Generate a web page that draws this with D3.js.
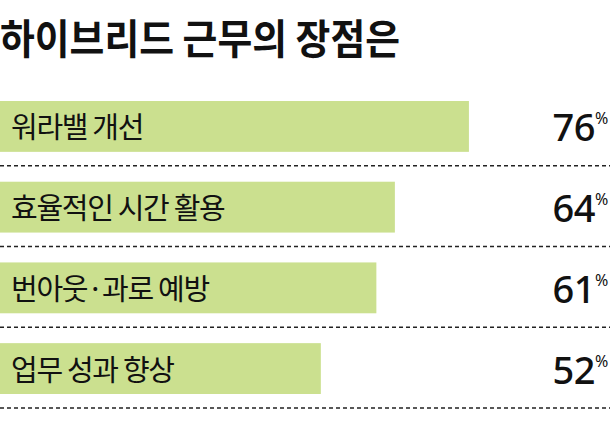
<!DOCTYPE html>
<html>
<head>
<meta charset="utf-8">
<script src="https://cdn.jsdelivr.net/npm/d3@7"></script>
<style>
  body { margin: 0; background: #fff; }
  svg { display: block; }
</style>
</head>
<body>
<div id="chart"></div>
<script>
const title = "하이브리드 근무의 장점은";
const categories = ["워라밸 개선", "효율적인 시간 활용", "번아웃·과로 예방", "업무 성과 향상"];
const values = [76, 64, 61, 52];

const width = 610;
const height = 434;
const font = "'Noto Sans CJK KR', 'Noto Sans', sans-serif";
const numFont = "'Noto Sans', 'DejaVu Sans', sans-serif";

const svg = d3.select("#chart")
  .append("svg")
  .attr("width", width)
  .attr("height", height);

svg.append("rect")
  .attr("width", width)
  .attr("height", height)
  .attr("fill", "#ffffff");

// title, slightly condensed like the original
svg.append("text")
  .attr("x", 0)
  .attr("y", 54)
  .attr("font-family", font)
  .attr("font-weight", 700)
  .attr("font-size", 41)
  .attr("textLength", 400)
  .attr("lengthAdjust", "spacingAndGlyphs")
  .attr("fill", "#111")
  .text(title);

// scales
const xScale = d3.scaleLinear()
  .domain([0, 100])
  .range([0, 617]);

const yScale = d3.scaleBand()
  .domain(categories)
  .range([101, 394])
  .paddingInner(0.37)
  .paddingOuter(0);

const rows = categories.map((c, i) => ({ cat: c, val: values[i] }));

// dashed separators under each bar
svg.selectAll(".sep")
  .data(rows)
  .enter()
  .append("line")
  .attr("class", "sep")
  .attr("x1", 0)
  .attr("x2", width)
  .attr("y1", d => yScale(d.cat) + yScale.bandwidth() + 14)
  .attr("y2", d => yScale(d.cat) + yScale.bandwidth() + 14)
  .attr("stroke", "#222")
  .attr("stroke-width", 1.5)
  .attr("stroke-dasharray", "4,3");

// bars
svg.selectAll(".bar")
  .data(rows)
  .enter()
  .append("rect")
  .attr("class", "bar")
  .attr("x", xScale(0))
  .attr("y", d => yScale(d.cat))
  .attr("width", d => xScale(d.val) - xScale(0))
  .attr("height", yScale.bandwidth())
  .attr("fill", "#cbe08f");

// category labels inside bars
svg.selectAll(".cat")
  .data(rows)
  .enter()
  .append("text")
  .attr("class", "cat")
  .attr("x", 11)
  .attr("y", d => yScale(d.cat) + yScale.bandwidth() / 2 + 12)
  .attr("font-family", font)
  .attr("font-size", 29)
  .attr("letter-spacing", -1.3)
  .attr("fill", "#111")
  .text(d => d.cat);

// values at right with small % sign
svg.selectAll(".val")
  .data(rows)
  .enter()
  .append("text")
  .attr("class", "val")
  .attr("x", 595)
  .attr("y", d => yScale(d.cat) + yScale.bandwidth() / 2 + 15)
  .attr("text-anchor", "end")
  .attr("font-family", numFont)
  .attr("font-weight", 500)
  .attr("font-size", 38)
  .attr("letter-spacing", -0.5)
  .attr("fill", "#111")
  .text(d => d.val);

svg.selectAll(".pct")
  .data(rows)
  .enter()
  .append("text")
  .attr("class", "pct")
  .attr("x", 595)
  .attr("y", d => yScale(d.cat) + yScale.bandwidth() / 2 - 2)
  .attr("font-family", "'Noto Sans', sans-serif")
  .attr("font-size", 16)
  .attr("fill", "#111")
  .text("%");
</script>
</body>
</html>
